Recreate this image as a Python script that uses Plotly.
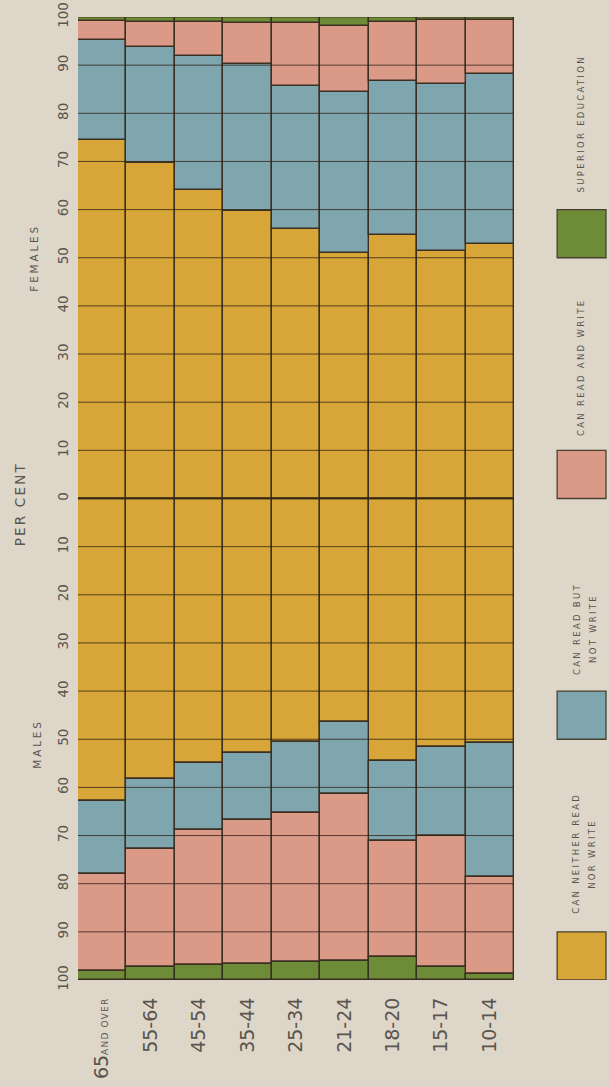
import plotly.graph_objects as go

ages = ["65 AND OVER", "55-64", "45-54", "35-44", "25-34", "21-24", "18-20", "15-17", "10-14"]
age_labels = ["65<span style='font-size:9px;letter-spacing:1.2px'>AND OVER</span>", "55-64", "45-54", "35-44",
              "25-34", "21-24", "18-20", "15-17", "10-14"]

categories = ["CAN NEITHER READ NOR WRITE", "CAN READ BUT NOT WRITE", "CAN READ AND WRITE", "SUPERIOR EDUCATION"]
legend_lines = [["CAN NEITHER READ", "NOR WRITE"], ["CAN READ BUT", "NOT WRITE"], ["CAN READ AND WRITE"], ["SUPERIOR EDUCATION"]]

# Females (per cent, drawn upward from 0)
fem_neither = [74.5, 69.6, 64.1, 59.8, 56.0, 51.0, 54.8, 51.3, 52.8]
fem_read_only = [20.7, 24.2, 27.8, 30.4, 29.7, 33.5, 32.0, 34.8, 35.4]
fem_read_write = [4.0, 5.2, 7.1, 8.6, 13.0, 13.6, 12.2, 13.3, 11.2]
fem_superior = [0.8, 1.0, 1.0, 1.2, 1.3, 1.9, 1.0, 0.6, 0.6]

# Males (per cent, drawn downward from 0)
male_neither = [62.8, 58.3, 55.0, 52.9, 50.5, 46.4, 54.5, 51.6, 50.7]
male_read_only = [15.2, 14.5, 13.9, 13.9, 14.9, 15.0, 16.6, 18.5, 28.0]
male_read_write = [20.1, 24.6, 27.9, 29.9, 30.9, 34.6, 24.2, 27.3, 20.1]
male_superior = [1.9, 2.6, 3.2, 3.3, 3.7, 4.0, 4.7, 2.6, 1.2]

colors = ["#D8A638", "#7FA5AF", "#DB9A88", "#6E8B38"]
legend_y = [-100, -50, 0, 50]          # legend box bottoms on the percent scale
legend_text_mid = [-73.7, -27.0, 27.1, 77.7]  # legend label centres on the percent scale

tick_vals = list(range(-100, 101, 10))
tick_text = [str(abs(v)) for v in tick_vals]

BG = "#DDD6C9"
INK = "#5A554E"
LINE = "#3A2F20"
FONT = "DejaVu Sans, sans-serif"

fig = go.Figure()
fem = [fem_neither, fem_read_only, fem_read_write, fem_superior]
mal = [male_neither, male_read_only, male_read_write, male_superior]
for i, name in enumerate(categories):
    fig.add_trace(go.Bar(x=ages, y=fem[i], name=name,
                         marker=dict(color=colors[i], line=dict(color=LINE, width=1.4)), showlegend=False))
for i, name in enumerate(categories):
    fig.add_trace(go.Bar(x=ages, y=[-v for v in mal[i]], name=name,
                         marker=dict(color=colors[i], line=dict(color=LINE, width=1.4)), showlegend=False))

# horizontal grid lines over the bars
for v in tick_vals:
    fig.add_shape(type="line", xref="x domain", yref="y", x0=0, x1=1, y0=v, y1=v, layer="above",
                  line=dict(color="rgba(50,38,22,0.8)", width=2 if v == 0 else 1))


def spaced(t, ls):
    return f"<span style='letter-spacing:{ls}px'>{t}</span>"


# legend (rotated) on the right
for i in range(4):
    fig.add_shape(type="rect", xref="paper", yref="y", x0=1.099, x1=1.211, y0=legend_y[i], y1=legend_y[i] + 10,
                  fillcolor=colors[i], line=dict(color="#4A4030", width=1.3))
    lines = legend_lines[i]
    xs = [1.1537] if len(lines) == 1 else [1.1433, 1.180]
    for line, xp in zip(lines, xs):
        fig.add_annotation(xref="paper", yref="y", x=xp, y=legend_text_mid[i], text=spaced(line, 2.3),
                           textangle=-90, showarrow=False, xanchor="center", yanchor="middle",
                           font=dict(family=FONT, size=8.5, color=INK))

fig.add_annotation(xref="paper", yref="y", x=-0.133, y=-1.2, text=spaced("PER CENT", 2.2), textangle=-90,
                   showarrow=False, xanchor="center", yanchor="middle", font=dict(family=FONT, size=13.5, color=INK))
fig.add_annotation(xref="paper", yref="y", x=-0.101, y=50, text=spaced("FEMALES", 2.8), textangle=-90,
                   showarrow=False, xanchor="center", yanchor="middle", font=dict(family=FONT, size=10.5, color=INK))
fig.add_annotation(xref="paper", yref="y", x=-0.095, y=-51, text=spaced("MALES", 2.8), textangle=-90,
                   showarrow=False, xanchor="center", yanchor="middle", font=dict(family=FONT, size=10.5, color=INK))

fig.update_layout(
    width=609, height=1087,
    margin=dict(l=78, r=95, t=17, b=107),
    paper_bgcolor=BG, plot_bgcolor=BG,
    barmode="relative", bargap=0,
    font=dict(family=FONT, color=INK),
)
fig.update_xaxes(tickvals=ages, ticktext=age_labels, tickangle=-90, showgrid=False, zeroline=False,
                 showline=False, ticks="outside", ticklen=9, tickcolor="rgba(0,0,0,0)", automargin=False,
                 tickfont=dict(family=FONT, size=19, color=INK))
fig.update_yaxes(range=[-100, 100], tickvals=tick_vals, ticktext=tick_text, tickangle=-90, showgrid=False,
                 zeroline=False, showline=False, ticks="outside", ticklen=4, tickcolor="rgba(0,0,0,0)",
                 automargin=False, tickfont=dict(family=FONT, size=13.5, color=INK))

fig.write_html("out.html", config={"displayModeBar": False},
               post_script="document.body.style.margin='0px';document.body.style.overflow='hidden';")
